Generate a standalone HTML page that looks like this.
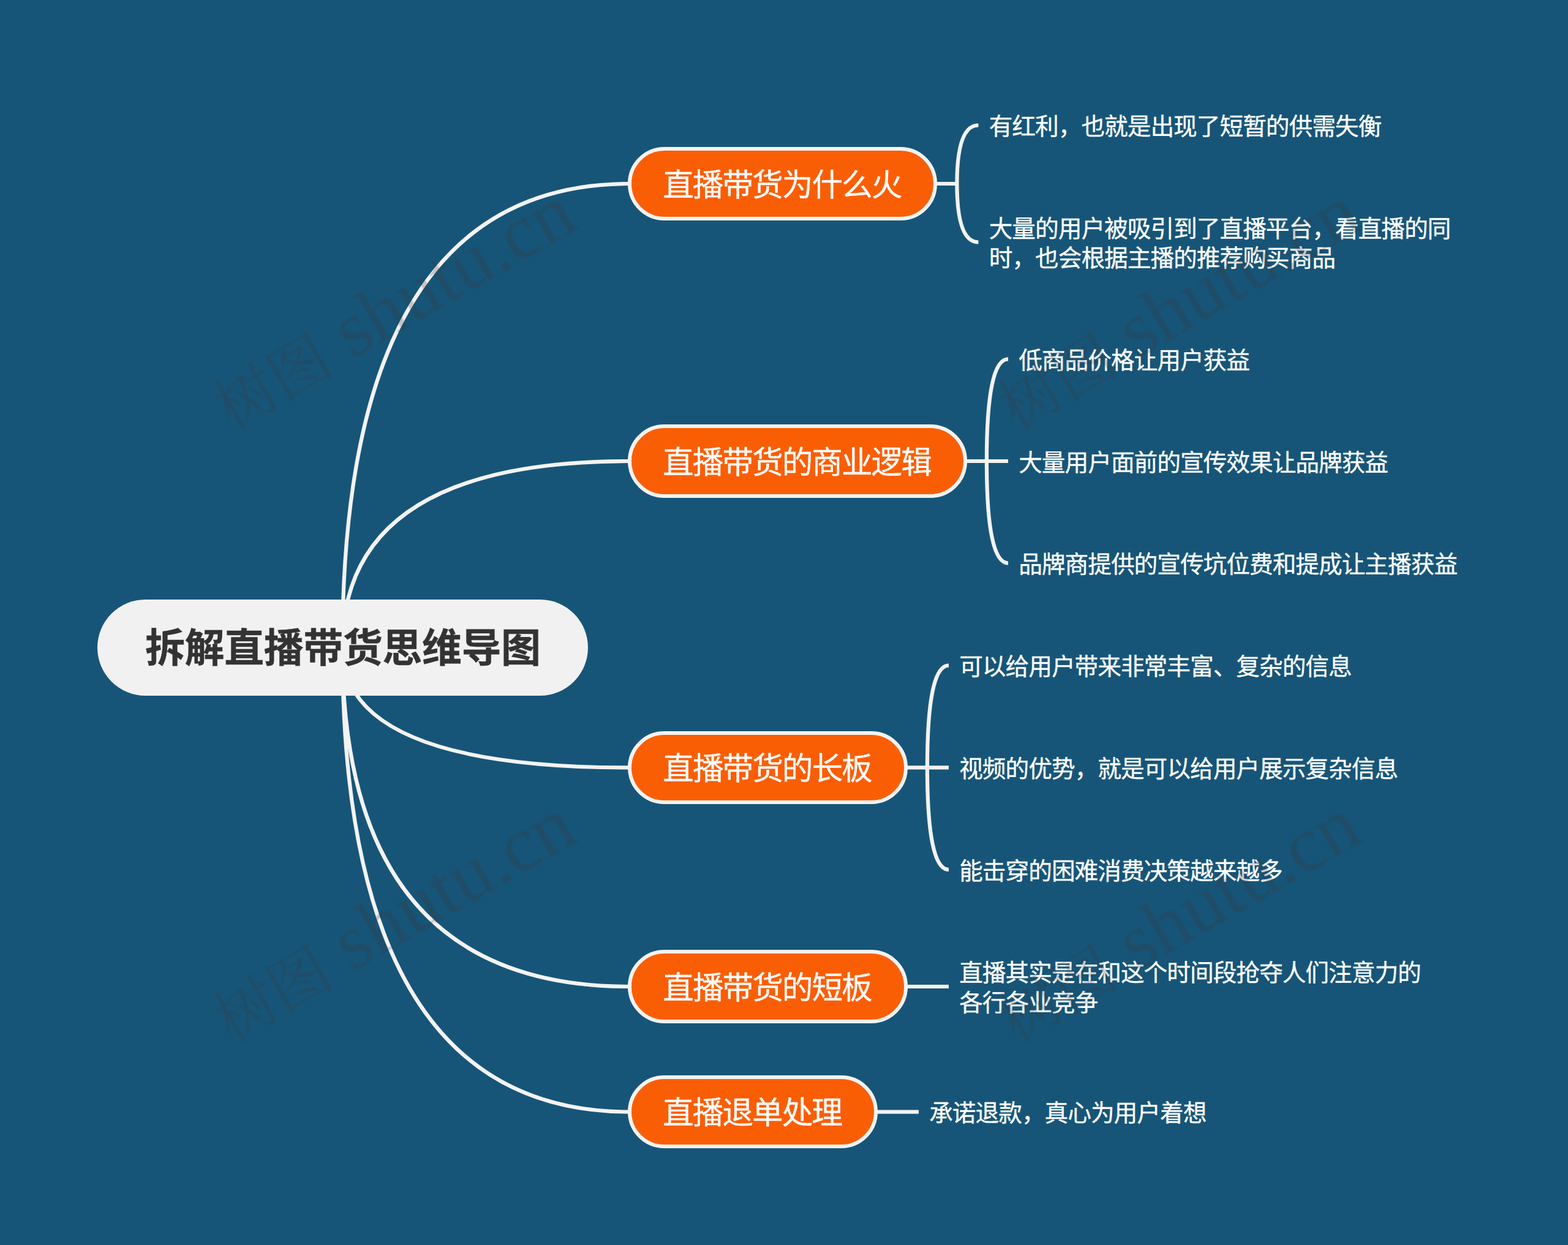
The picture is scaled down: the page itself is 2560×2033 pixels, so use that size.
<!DOCTYPE html>
<html lang="zh-CN">
<head>
<meta charset="utf-8">
<title>拆解直播带货思维导图</title>
<style>
html,body{margin:0;padding:0;}
body{width:2560px;height:2033px;background:#175578;position:relative;overflow:hidden;
font-family:"Liberation Sans","Noto Sans CJK SC",sans-serif;}
#lines{position:absolute;left:0;top:0;width:2560px;height:2033px;}
#lines path{fill:none;stroke:#f3f3f3;stroke-width:6.2;stroke-linecap:butt;}
.root{position:absolute;left:159px;top:979px;width:801px;height:157px;
border-radius:78.5px;background:#f1f1f1;color:#333333;font-weight:bold;font-size:65px;
line-height:157px;text-align:center;white-space:nowrap;}
.root span{position:relative;top:1.3px;left:0.3px;letter-spacing:-0.45px;-webkit-text-stroke:0.4px #333333;}
.node{position:absolute;box-sizing:border-box;height:119.4px;border:6.5px solid #f3f3f3;border-radius:59.7px;
background:#fa5e05;color:#fff;font-size:50.6px;letter-spacing:-1.95px;-webkit-text-stroke:0.3px #fff;line-height:106.4px;text-align:center;white-space:nowrap;}
.node span{position:relative;top:3.5px;left:-0.6px}
.sub{position:absolute;color:#fff;font-size:38.6px;letter-spacing:-0.9px;-webkit-text-stroke:0.35px #fff;line-height:48.5px;white-space:nowrap;margin-top:2.8px;}
#wm{position:absolute;left:0;top:0;width:2560px;height:2033px;pointer-events:none;filter:blur(1.2px);}
#wm text{font-family:"Liberation Serif","Noto Serif CJK SC",serif;font-size:128px;fill:#383838;fill-opacity:0.25;white-space:pre;}
#wm .c{font-size:99px;}
</style>
</head>
<body>
<svg id="lines" viewBox="0 0 2560 2033" width="2560" height="2033">
<path d="M559,1057.5 Q559,300.0 1027.6,300.0"/>
<path d="M559,1057.5 Q559,753.0 1027.6,753.0"/>
<path d="M559,1057.5 Q559,1253.4 1027.6,1253.4"/>
<path d="M559,1057.5 Q559,1611.0 1027.6,1611.0"/>
<path d="M559,1057.5 Q559,1815.6 1027.6,1815.6"/>
<path d="M1527.1,300.0 L1562.4,300.0"/>
<path d="M1562.4,300.0 Q1562.4,204.5 1597.4,204.5"/>
<path d="M1562.4,300.0 Q1562.4,395.5 1597.4,395.5"/>
<path d="M1575.6,753.0 L1610.9,753.0"/>
<path d="M1610.9,753.0 Q1610.9,586.4 1645.9,586.4"/>
<path d="M1610.9,753.0 L1645.9,753.0"/>
<path d="M1610.9,753.0 Q1610.9,919.6 1645.9,919.6"/>
<path d="M1478.6,1253.4 L1513.9,1253.4"/>
<path d="M1513.9,1253.4 Q1513.9,1086.7 1548.9,1086.7"/>
<path d="M1513.9,1253.4 L1548.9,1253.4"/>
<path d="M1513.9,1253.4 Q1513.9,1420.1 1548.9,1420.1"/>
<path d="M1478.6,1611.0 L1548.9,1611.0"/>
<path d="M1429.6,1815.6 L1499.9,1815.6"/>
</svg>
<div class="root"><span>拆解直播带货思维导图</span></div>
<div class="sub" style="left:1614.7px;top:180.2px">有红利，也就是出现了短暂的供需失衡</div>
<div class="sub" style="left:1614.7px;top:347.0px">大量的用户被吸引到了直播平台，看直播的同<br>时，也会根据主播的推荐购买商品</div>
<div class="sub" style="left:1663.2px;top:562.1px">低商品价格让用户获益</div>
<div class="sub" style="left:1663.2px;top:728.8px">大量用户面前的宣传效果让品牌获益</div>
<div class="sub" style="left:1663.2px;top:895.4px">品牌商提供的宣传坑位费和提成让主播获益</div>
<div class="sub" style="left:1566.2px;top:1062.5px">可以给用户带来非常丰富、复杂的信息</div>
<div class="sub" style="left:1566.2px;top:1229.2px">视频的优势，就是可以给用户展示复杂信息</div>
<div class="sub" style="left:1566.2px;top:1395.8px">能击穿的困难消费决策越来越多</div>
<div class="sub" style="left:1566.2px;top:1562.5px">直播其实是在和这个时间段抢夺人们注意力的<br>各行各业竞争</div>
<div class="sub" style="left:1517.2px;top:1791.3px">承诺退款，真心为用户着想</div>
<div class="node" style="left:1024.6px;top:240.3px;width:505.5px"><span>直播带货为什么火</span></div>
<div class="node" style="left:1024.6px;top:693.3px;width:554.0px"><span>直播带货的商业逻辑</span></div>
<div class="node" style="left:1024.6px;top:1193.7px;width:457.0px"><span>直播带货的长板</span></div>
<div class="node" style="left:1024.6px;top:1551.3px;width:457.0px"><span>直播带货的短板</span></div>
<div class="node" style="left:1024.6px;top:1755.9px;width:408.0px"><span>直播退单处理</span></div>
<svg id="wm" viewBox="0 0 2560 2033" width="2560" height="2033">
<text transform="translate(375.5,701.6) rotate(-30)"><tspan class="c" dy="3">树图</tspan><tspan dy="-3"> shutu.cn</tspan></text>
<text transform="translate(1656.5,701.6) rotate(-30)"><tspan class="c" dy="3">树图</tspan><tspan dy="-3"> shutu.cn</tspan></text>
<text transform="translate(375.5,1701.7) rotate(-30)"><tspan class="c" dy="3">树图</tspan><tspan dy="-3"> shutu.cn</tspan></text>
<text transform="translate(1656.5,1701.7) rotate(-30)"><tspan class="c" dy="3">树图</tspan><tspan dy="-3"> shutu.cn</tspan></text>
</svg>
</body>
</html>
